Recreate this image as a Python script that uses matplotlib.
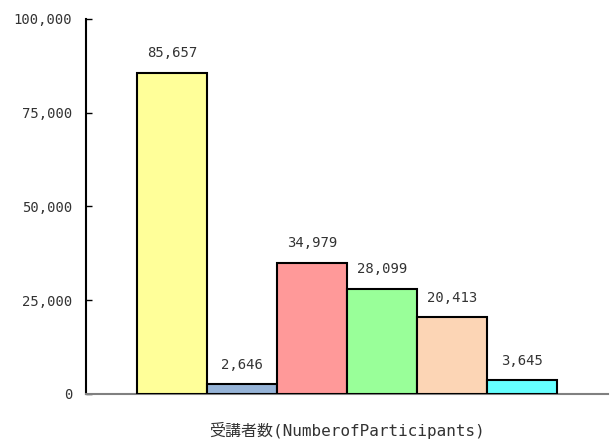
import matplotlib.pyplot as plt

plt.rcParams['font.family'] = ['DejaVu Sans Mono', 'Noto Sans CJK JP']

# Data
category = '受講者数(NumberofParticipants)'
values = [85657, 2646, 34979, 28099, 20413, 3645]
colors = ['#FFFF99', '#95B3D7', '#FF9999', '#99FF99', '#FCD5B5', '#66FFFF']
yticks = [0, 25000, 50000, 75000, 100000]

fig = plt.figure(figsize=(6.1, 4.41), dpi=100)
ax = fig.add_axes([0.141, 0.1066, 0.856, 0.8504])

n = len(values)
offsets = [i - (n - 1) / 2 for i in range(n)]
bars = ax.bar(offsets, values, width=1.0, color=colors, edgecolor='black', linewidth=1.5, zorder=3)

# Value labels above bars
for b, v in zip(bars, values):
    ax.annotate(f'{v:,}', (b.get_x() + b.get_width() / 2, v), xytext=(0, 9),
                textcoords='offset points', ha='center', va='bottom',
                fontsize=10, color='#333333')

ax.set_xlim(-3.73, 3.73)
ax.set_ylim(0, 100000)
ax.set_yticks(yticks)
ax.set_yticklabels([f'{t:,}' for t in yticks], fontsize=10, color='#333333')
ax.set_xticks([0])
ax.set_xticklabels([category], fontsize=11.5, color='#333333')
ax.tick_params(axis='x', length=0, pad=20)
ax.tick_params(axis='y', direction='in', length=4, width=1, color='black', pad=10)

ax.spines['top'].set_visible(False)
ax.spines['right'].set_visible(False)
ax.spines['left'].set_color('black')
ax.spines['left'].set_linewidth(1.5)
ax.spines['bottom'].set_color('#808080')
ax.spines['bottom'].set_linewidth(1.5)

fig.savefig('out.png', dpi=100)
